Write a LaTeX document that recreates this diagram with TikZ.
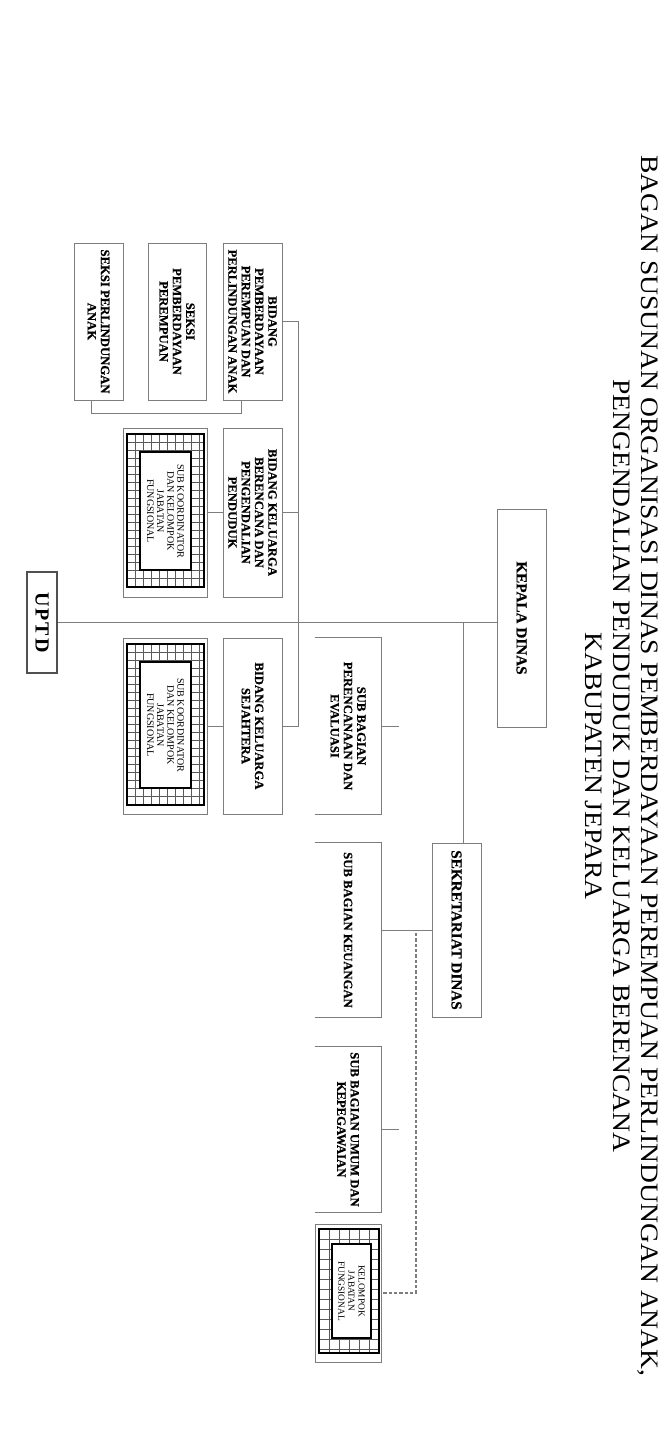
\documentclass[tikz,border=0pt]{standalone}
\usepackage{fontspec}
\setmainfont{Liberation Serif}
\newfontfamily\titlefont[FakeStretch=1.1]{Liberation Serif}
\newfontfamily\uptdfont[LetterSpace=10]{Liberation Serif}
\newfontfamily\kotakfont[FakeBold=0.6]{Liberation Serif}
\usepackage{tikz}

\definecolor{garis}{RGB}{125,125,125}
\definecolor{gelap}{RGB}{80,80,80}

\tikzset{
  boxsize/.style 2 args={minimum height=#1*0.75pt, minimum width=#2*0.75pt},
  kotak/.style={draw=garis, line width=0.75pt, rotate=-90, inner sep=0pt, align=center, font=\kotakfont\bfseries\fontsize{9.5}{10}\selectfont},
  kotakbuka/.style={rotate=-90, inner sep=0pt, align=center, font=\kotakfont\bfseries\fontsize{9.5}{10}\selectfont},
  conn/.style={draw=garis, line width=0.75pt},
  putus/.style={draw=garis, line width=1.1pt, dash pattern=on 2.6pt off 1.4pt},
  bingkai/.style={draw=garis, line width=0.75pt, rotate=-90, inner sep=0pt},
  isian/.style={draw=black, fill=white, line width=1.3pt, rotate=-90, inner sep=0pt, align=center, font=\fontsize{7.5}{7.6}\selectfont},
  gridline/.style={draw=black!65, line width=0.35pt},
  tebal/.style={draw=black, line width=1.4pt},
}

% grid between the thick frame and the white inner box
\newcommand{\gridisi}[5]{%
  \begin{scope}
    \clip (#1,#2) rectangle (#3,#4);
    \foreach \k in {0,...,30}{
      \draw[gridline] (#1+\k*#5,#2) -- (#1+\k*#5,#4);
      \draw[gridline] (#1,#2+\k*#5) -- (#3,#2+\k*#5);
    }
  \end{scope}
  \draw[tebal] (#1,#2) rectangle (#3,#4);
}

\begin{document}
\begin{tikzpicture}[x=0.75pt,y=0.75pt,yscale=-1,xscale=1]
\fill[white] (0,0) rectangle (669,1441);
\useasboundingbox (0,0) rectangle (669,1441);

% Text Node
\draw (622,766) node [rotate=-90, align=center, inner sep=0pt, font=\titlefont\fontsize{18.8}{21}\selectfont] (judul) {BAGAN SUSUNAN ORGANISASI DINAS PEMBERDAYAAN PEREMPUAN PERLINDUNGAN ANAK,\\PENGENDALIAN PENDUDUK DAN KELUARGA BERENCANA\\KABUPATEN JEPARA};

%Shape: Rectangle
\draw (521.5,618) node [kotak, boxsize={49}{218}, font=\kotakfont\bfseries\fontsize{11.4}{12}\selectfont] (kepala) {KEPALA DINAS};
%Shape: Rectangle
\draw (42,622.5) node [kotak, boxsize={30}{101}, draw=gelap, line width=1.5pt, font=\uptdfont\bfseries\fontsize{15}{15}\selectfont] (uptd) {UPTD};
%Shape: Rectangle
\draw (456.5,930) node [kotak, boxsize={49}{174}, font=\kotakfont\bfseries\fontsize{11.4}{12}\selectfont] (sekretariat) {SEKRETARIAT DINAS};

%Shape: Open Rectangle
\draw (348,726) node [kotakbuka, boxsize={66}{176}] (perencanaan) {SUB BAGIAN\\PERENCANAAN DAN\\EVALUASI};
\draw[conn] (perencanaan.south west) -- (perencanaan.north west) -- (perencanaan.north east) -- (perencanaan.south east);
%Shape: Open Rectangle
\draw (348,930) node [kotakbuka, boxsize={66}{174}] (keuangan) {SUB BAGIAN KEUANGAN};
\draw[conn] (keuangan.south west) -- (keuangan.north west) -- (keuangan.north east) -- (keuangan.south east);
%Shape: Open Rectangle
\draw (348,1129.5) node [kotakbuka, boxsize={66}{165}] (umum) {SUB BAGIAN UMUM DAN\\KEPEGAWAIAN};
\draw[conn] (umum.south west) -- (umum.north west) -- (umum.north east) -- (umum.south east);

%Shape: Grid Box
\draw (348,1293) node [bingkai, boxsize={66}{138}] (kelompok) {};
\gridisi{319}{1229}{379}{1353}{10}
\draw (351.5,1291) node [isian, boxsize={39}{94}, font=\fontsize{7}{7.6}\selectfont] (kelompoktxt) {KELOMPOK\\JABATAN\\FUNGSIONAL};

%Shape: Rectangle
\draw (252.5,321.5) node [kotak, boxsize={59}{157}] (bidangpp) {BIDANG\\PEMBERDAYAAN\\PEREMPUAN DAN\\PERLINDUNGAN ANAK};
%Shape: Rectangle
\draw (252.5,512.5) node [kotak, boxsize={59}{169}] (bidangkb) {BIDANG KELUARGA\\BERENCANA DAN\\PENGENDALIAN\\PENDUDUK};
%Shape: Rectangle
\draw (252.5,726) node [kotak, boxsize={59}{176}] (bidangks) {BIDANG KELUARGA\\SEJAHTERA};
%Shape: Rectangle
\draw (177,321.5) node [kotak, boxsize={58}{157}] (seksipp) {SEKSI\\PEMBERDAYAAN\\PEREMPUAN};
%Shape: Rectangle
\draw (98.5,321.5) node [kotak, boxsize={49}{157}] (seksianak) {SEKSI PERLINDUNGAN\\ANAK};

%Shape: Grid Box
\draw (165,512.5) node [bingkai, boxsize={84}{169}] (koordA) {};
\gridisi{127}{434}{204}{587}{8}
\draw (165.5,511) node [isian, boxsize={51}{118}] (koordAtxt) {SUB KOORDINATOR\\DAN KELOMPOK\\JABATAN\\FUNGSIONAL};
%Shape: Grid Box
\draw (165,726) node [bingkai, boxsize={84}{176}] (koordB) {};
\gridisi{127}{644}{204}{805}{8}
\draw (165.5,725) node [isian, boxsize={51}{126}] (koordBtxt) {SUB KOORDINATOR\\DAN KELOMPOK\\JABATAN\\FUNGSIONAL};

%Straight Lines
\coordinate (cabang) at (463,622.5);
\coordinate (ujungA) at (399,726);
\coordinate (ujungB) at (399,1129.5);
\coordinate (putusan) at (416,933);
\coordinate (batang) at (298,321.5);

\draw[conn] (uptd.north) -- (uptd.north -| kepala.south);
\draw[conn] (cabang) -- (cabang |- sekretariat.west);
\draw[conn] (sekretariat.south) -- (keuangan.north);
\draw[conn] (perencanaan.north) -- (ujungA);
\draw[conn] (umum.north) -- (ujungB);
\draw[putus] (putusan) |- (kelompok.north);

\draw[conn] (bidangpp.north) -- (batang) |- (bidangks.north);
\draw[conn] (bidangkb.north) -- (bidangkb.north -| batang);
\draw[conn] (bidangkb.south) -- (koordA.north);
\draw[conn] (bidangks.south) -- (koordB.north);
\draw[conn] ([xshift=-7.9pt]bidangpp.east) -- ++(0,13) -| ([xshift=-5.6pt]seksianak.east);

\end{tikzpicture}
\end{document}
